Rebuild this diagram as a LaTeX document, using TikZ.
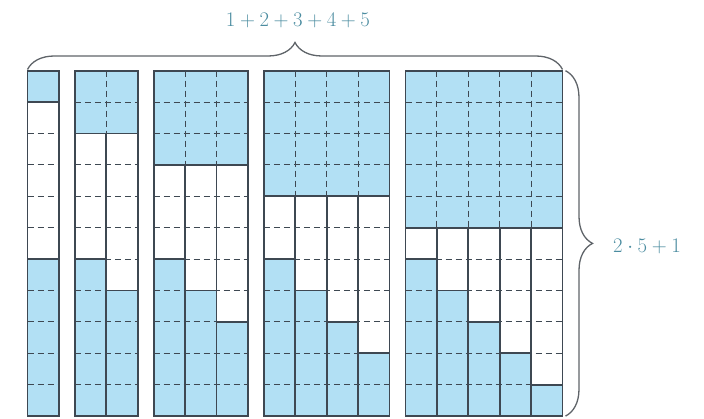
\documentclass[tikz,border=0pt]{standalone}
\usetikzlibrary{decorations.pathreplacing}
\definecolor{cellblue}{RGB}{178,224,244}
\definecolor{gridline}{RGB}{62,72,82}
\definecolor{bracecol}{RGB}{95,100,105}
\definecolor{labelcol}{RGB}{75,140,160}
\tikzset{
  solidline/.style={draw=gridline, line width=1.8pt},
  dashline/.style={draw=gridline, line width=0.9pt, dash pattern=on 6pt off 4pt},
  bracestyle/.style={draw=bracecol, line width=1.3pt, decorate, decoration={brace, amplitude=27pt}},
  lbl/.style={text=labelcol, font=\fontsize{20.5}{24}\selectfont, inner sep=0pt}
}
\begin{document}
\begin{tikzpicture}[x=1pt,y=1pt]
\useasboundingbox (0,0) rectangle (704,419);
\def\cw{31.4}
\def\T{348.3}
\def\B{2.9}
\foreach \k in {1,...,5}{
  \pgfmathsetmacro{\X}{27.5+(\k-1)*16+\cw*(\k-1)*\k/2}
  \pgfmathsetmacro{\W}{\k*\cw}
  \pgfmathsetmacro{\S}{\T-\k*\cw}
  % fills
  \fill[cellblue] (\X,\S) rectangle (\X+\W,\T);
  \foreach \j in {1,...,\k}{
    \fill[cellblue] (\X+\j*\cw-\cw,\B) rectangle (\X+\j*\cw,\B+6*\cw-\j*\cw);
  }
  % dashed grid
  \foreach \r in {1,...,10}{
    \draw[dashline] (\X,\T-\r*\cw) -- (\X+\W,\T-\r*\cw);
  }
  \ifnum\k>1
    \foreach \i in {2,...,\k}{
      \draw[dashline] (\X+\i*\cw-\cw,\T) -- (\X+\i*\cw-\cw,\S);
      \draw[solidline] (\X+\i*\cw-\cw,\S) -- (\X+\i*\cw-\cw,\B);
    }
  \fi
  % staircase tops
  \foreach \j in {1,...,\k}{
    \draw[solidline] (\X+\j*\cw-\cw,\B+6*\cw-\j*\cw) -- (\X+\j*\cw,\B+6*\cw-\j*\cw);
  }
  % square bottom and outline
  \draw[solidline] (\X,\S) -- (\X+\W,\S);
  \draw[solidline] (\X,\B) rectangle (\X+\W,\T);
}
\coordinate (topL) at (27.5,349.5);
\coordinate (topR) at (562.5,349.5);
\coordinate (rightT) at (565.5,348.3);
\coordinate (rightB) at (565.5,2.9);
\draw[bracestyle] (topL) -- (topR);
\draw[bracestyle] (rightT) -- (rightB);
\node[lbl] (sumlabel) at (298,399) {$1+2+3+4+5$};
\node[lbl, anchor=west] (heightlabel) at (613,173) {$2\cdot5+1$};
\end{tikzpicture}
\end{document}
